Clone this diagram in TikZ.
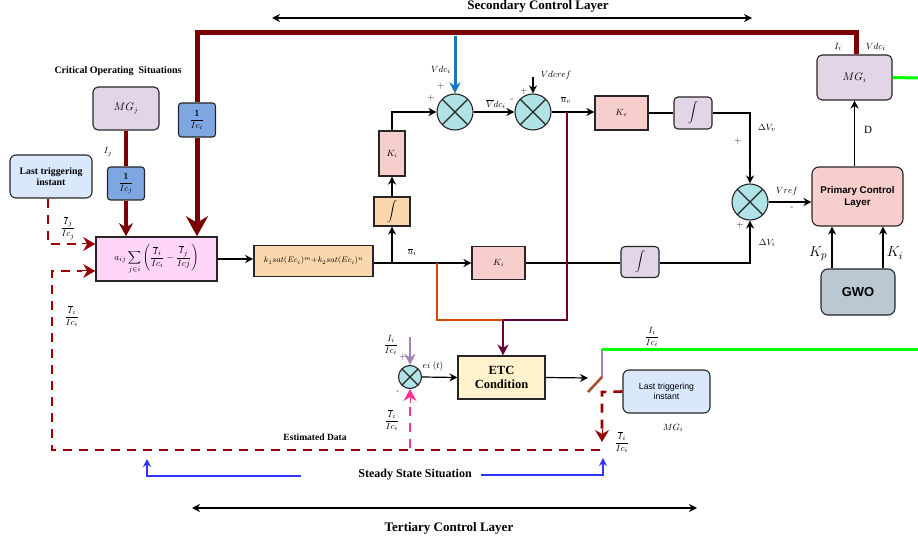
\documentclass[tikz,border=0pt]{standalone}
\usepackage{fontspec}
\usepackage{amsmath}
\newfontfamily\tmsfont{Liberation Serif}
\newfontfamily\arlfont{Liberation Sans}
\usetikzlibrary{arrows.meta}
\definecolor{kpink}{HTML}{F8CECC}
\definecolor{lavender}{HTML}{E1D5E7}
\definecolor{gainblue}{HTML}{7EA6E0}
\definecolor{trigblue}{HTML}{DAE8FC}
\definecolor{sumcyan}{HTML}{B0E3E6}
\definecolor{satorange}{HTML}{FAD7AC}
\definecolor{conspink}{HTML}{FFD6F8}
\definecolor{etcyellow}{HTML}{FFF2CC}
\definecolor{gwogray}{HTML}{BAC8D3}
\definecolor{busred}{HTML}{7A0000}
\definecolor{dred}{HTML}{990000}
\definecolor{vdcblue}{HTML}{1A75BC}
\definecolor{lgreen}{HTML}{00FF00}
\definecolor{dpink}{HTML}{FF2E93}
\definecolor{violet}{HTML}{A680B8}
\definecolor{rust}{HTML}{D04A02}
\definecolor{plum}{HTML}{660033}
\definecolor{swbrown}{HTML}{A0522D}
\definecolor{ssblue}{HTML}{3333FF}
\definecolor{signc}{HTML}{4B0060}
\begin{document}
\begin{tikzpicture}[
    x=1pt, y=-1pt,
    >={Stealth[length=8pt,width=8pt]},
    blk/.style={
        draw=black!85,
        line width=1.1pt,
        inner sep=1pt,
        align=center,
        font=\fontsize{9}{10}\selectfont
    },
    kbox/.style={blk, fill=kpink},
    intbox/.style={blk, fill=lavender, rounded corners=4pt, font=\fontsize{10}{11}\selectfont},
    mgbox/.style={blk, fill=lavender, rounded corners=5pt, font=\fontsize{10.5}{12}\selectfont},
    gainbox/.style={blk, fill=gainblue, rounded corners=3pt, font=\fontsize{9.5}{10}\selectfont},
    trigbox/.style={blk, fill=trigblue, rounded corners=6pt},
    summer/.style={
        circle, draw=black!85, line width=1.1pt, fill=sumcyan,
        minimum size=36pt, inner sep=0pt,
        path picture={\draw[line width=1.1pt]
            (path picture bounding box.north west) -- (path picture bounding box.south east)
            (path picture bounding box.north east) -- (path picture bounding box.south west);}
    },
    lbl/.style={font=\fontsize{9.5}{10}\selectfont, inner sep=0pt},
    sgn/.style={font=\fontsize{9}{10}\selectfont, inner sep=0pt, text=signc},
    ttl/.style={font=\tmsfont\bfseries\fontsize{13}{15}\selectfont, inner sep=0pt},
    arr/.style={->, line width=1.2pt},
    ln/.style={line width=1.2pt},
    ddash/.style={line width=2.6pt, draw=dred, dash pattern=on 9pt off 7pt},
    dtip/.style={-{Stealth[length=12pt,width=14pt]}},
    feed/.style={line width=2.6pt}
]
\useasboundingbox (0,0) rectangle (918,545);

% layer titles
\node[ttl] (sectitle) at (538,6.5) {Secondary Control Layer};
\coordinate (secl) at (272,18);
\coordinate (secr) at (752,18);
\draw[<->, line width=1.5pt] (secl) -- (secr);
\node[ttl] (tertitle) at (449,528) {Tertiary Control Layer};
\coordinate (terl) at (192,508);
\coordinate (terr) at (697,508);
\draw[<->, line width=1.5pt] (terl) -- (terr);

% consensus side
\node[font=\tmsfont\bfseries\fontsize{10}{11}\selectfont, inner sep=0pt] (crit) at (118,71) {Critical Operating\ \ Situations};
\node[mgbox, minimum width=66pt, minimum height=43pt] (mgj) at (126,108.5) {$MG_j$};
\node[gainbox, minimum width=37pt, minimum height=33pt] (icj) at (126,183.5) {$\dfrac{\mathbf{1}}{Ic_j}$};
\node[gainbox, minimum width=37pt, minimum height=34pt] (ici) at (197,120) {$\dfrac{\mathbf{1}}{Ic_i}$};
\node[trigbox, minimum width=82pt, minimum height=43pt, font=\tmsfont\bfseries\fontsize{9.8}{11.5}\selectfont] (lastl) at (51,176.5) {Last triggering\\instant};
\node[blk, fill=conspink, line width=1.6pt, minimum width=121pt, minimum height=44pt, font=\fontsize{9.5}{10}\selectfont] (sum) at (156.5,259)
    {$a_{ij}\displaystyle\sum_{j\in i}\left(\frac{\overline{I}_i}{Ic_i}-\frac{\overline{I}_j}{Icj}\right)$};
\node[blk, fill=satorange, line width=1.6pt, minimum width=119pt, minimum height=31pt, font=\fontsize{8.3}{9}\selectfont] (ksat) at (313.5,261)
    {$k_1sat(Ec_i)^m{+}k_2sat(Ec_i)^n$};

\node[lbl] (ijlbl) at (108,152) {$I_j$};
\node[lbl] (ijbar) at (68,228) {$\dfrac{\overline{I}_j}{Ic_j}$};
\node[lbl] (iibar) at (72,316) {$\dfrac{\overline{I}_i}{Ic_i}$};

% voltage / current loops
\node[summer] (c1) at (455,112) {};
\node[summer] (c2) at (533,112) {};
\node[summer] (c3) at (750,202) {};
\node[kbox, minimum width=53pt, minimum height=34pt] (kv) at (621.5,113) {$K_v$};
\node[intbox, minimum width=38pt, minimum height=32pt] (intv) at (693,113) {$\displaystyle\int$};
\node[kbox, minimum width=26pt, minimum height=45pt] (kiu) at (392,153.5) {$K_i$};
\node[blk, fill=satorange, minimum width=36pt, minimum height=29pt, font=\fontsize{10}{11}\selectfont] (into) at (392,211.5) {$\displaystyle\int$};
\node[kbox, minimum width=53pt, minimum height=33pt] (kil) at (498.5,263) {$K_i$};
\node[intbox, minimum width=38pt, minimum height=31pt] (inti) at (640,262) {$\displaystyle\int$};

% primary layer
\node[mgbox, minimum width=75pt, minimum height=45pt] (mgi) at (854.5,77.5) {$MG_i$};
\node[blk, fill=kpink, rounded corners=7pt, minimum width=91pt, minimum height=59pt, font=\arlfont\bfseries\fontsize{9.8}{12}\selectfont] (prim) at (857.5,196.5) {Primary Control\\Layer};
\node[blk, fill=gwogray, rounded corners=7pt, minimum width=74pt, minimum height=46pt, font=\arlfont\bfseries\fontsize{13}{15}\selectfont] (gwo) at (858,292) {GWO};

% event-triggered part
\node[summer, minimum size=23pt] (c4) at (410,377) {};
\node[blk, fill=etcyellow, minimum width=87pt, minimum height=43pt, font=\tmsfont\bfseries\fontsize{12.5}{14}\selectfont] (etc) at (501.5,377.5) {ETC\\Condition};
\node[trigbox, minimum width=87pt, minimum height=43pt, font=\arlfont\fontsize{8.7}{10.5}\selectfont] (lastr) at (666.5,391.5) {Last triggering\\instant};

% maroon bus from MG_i
\coordinate (busr) at (856,33);
\coordinate (busl) at (197,33);
\draw[line width=5pt, busred] (mgi.north -| busr) -- (busr) -- (busl) -- (ici.north);
\draw[line width=5pt, busred, -{Stealth[length=20pt,width=22pt]}] (ici.south) -- (ici |- sum.north);
\draw[line width=3.8pt, busred] (mgj.south) -- (icj.north);
\draw[line width=3.8pt, busred, -{Stealth[length=13pt,width=14pt]}] (icj.south) -- (icj |- sum.north);

% dashed estimated data
\coordinate (tl1) at (48,244);
\draw[ddash] (lastl.south -| tl1) -- (tl1) -- ([xshift=-13pt]sum.west |- tl1);
\draw[dred, dtip, line width=0pt] ([xshift=-13pt]sum.west |- tl1) -- (sum.west |- tl1);
\coordinate (ed1) at (52,271);
\coordinate (ed2) at (52,450);
\coordinate (ed3) at (600,450);
\draw[ddash] (ed3) -- (ed2) -- (ed1) -- ([xshift=-13pt]sum.west |- ed1);
\draw[dred, dtip, line width=0pt] ([xshift=-13pt]sum.west |- ed1) -- (sum.west |- ed1);
\node[font=\tmsfont\bfseries\fontsize{9.5}{11}\selectfont, inner sep=0pt] (edlbl) at (315,437) {Estimated Data};

% forward path
\draw[arr] (sum.east |- 0,259) -- (ksat.west |- 0,259);
\coordinate (uibr) at (392,263);
\coordinate (uorg) at (437,263);
\draw[arr] (ksat.east |- uibr) -- (kil.west);
\node[lbl] (uilbl) at (412,252) {$\overline{u}_i$};
\draw[arr] (uibr) -- (into.south);
\draw[arr] (into.north) -- (kiu.south);
\draw[arr] (kiu.north) |- (c1.west);
\draw[ln] (kil.east) -- (inti.west |- kil.east);
\draw[arr] (inti.east |- kil.east) -| (c3.south);
\draw[vdcblue, line width=3pt, -{Stealth[length=11pt,width=11pt]}] (455,36) -- (c1.north);
\coordinate (vref0) at (533,77);
\draw[arr] (vref0) -- (c2.north);
\draw[arr] (c1.east) -- (c2.west);
\draw[arr] (c2.east) -- (kv.west |- c2.east);
\draw[ln] (kv.east) -- (intv.west);
\draw[arr] (intv.east) -| (c3.north);
\draw[arr] (c3.east) -- (prim.west |- c3.east);
\draw[arr] (prim.north -| mgi.south) -- (mgi.south);
\draw[arr] (gwo.north -| 832,0) -- (prim.south -| 832,0);
\draw[arr] (gwo.north -| 883,0) -- (prim.south -| 883,0);
\draw[lgreen, line width=3pt] (mgi.east) -- (918,78);

% signals into the ETC block
\coordinate (uvbr) at (567,112);
\coordinate (jn) at (503,320);
\draw[rust, feed] (uorg) -- (uorg |- jn) -- (jn);
\draw[plum, feed] (uvbr) -- (uvbr |- jn) -- (jn);
\draw[plum, feed, -{Stealth[length=11pt,width=11pt]}] (jn) -- (etc.north -| jn);
\draw[violet, feed, -{Stealth[length=11pt,width=11pt]}] (410,337) -- (c4.north);
\draw[dpink, feed, dash pattern=on 9pt off 7pt] (410,448) -- (410,402);
\draw[dpink, -{Stealth[length=12pt,width=13pt]}, line width=0pt] (410,402) -- (c4.south);
\draw[arr] (c4.east) -- (etc.west);

% switch
\coordinate (swt) at (602,349);
\coordinate (swp) at (602,377);
\coordinate (swe) at (588,392);
\draw[arr] (etc.east) -- (588,378);
\draw[violet, line width=2.6pt] (swt) -- (swp);
\draw[swbrown, line width=2.6pt] (swp) -- (swe);
\draw[lgreen, line width=3pt] (swt) -- (918,349);
\coordinate (sw1) at (602,392);
\draw[ddash] (lastr.west) -- (sw1) -- (602,429);
\draw[dred, dtip, line width=0pt] (602,429) -- (602,442);

% steady state arrows
\node[ttl, font=\tmsfont\bfseries\fontsize{12}{14}\selectfont] (sslbl) at (415,475) {Steady State Situation};
\coordinate (ssl) at (301,476);
\coordinate (ssr) at (481,475);
\draw[ssblue, line width=1.5pt, -{Stealth[length=8pt,width=8pt]}] (ssl) -| (147,459);
\draw[ssblue, line width=1.5pt, -{Stealth[length=8pt,width=8pt]}] (ssr) -| (603,458);

% labels
\node[lbl] at (441,70) {$Vdc_i$};
\node[sgn] at (441,86) {+};
\node[sgn] at (431,98) {+};
\node[lbl] at (496,104) {$\overline{V}dc_i$};
\node[sgn] at (512,100) {-};
\node[sgn] at (524,91) {+};
\node[lbl] at (556,75) {$Vdcref$};
\node[lbl] at (566,100) {$\overline{u}_v$};
\node[lbl] at (767,128) {$\Delta V_v$};
\node[sgn] at (738,141) {+};
\node[lbl] at (787,191) {$Vref$};
\node[sgn] at (792,208) {-};
\node[sgn] at (740,225) {+};
\node[lbl] at (767,243) {$\Delta V_i$};
\node[lbl] at (838,47) {$I_i$};
\node[lbl] at (876,47) {$Vdc_i$};
\node[font=\tmsfont\fontsize{11}{12}\selectfont, inner sep=0pt] at (868,130) {D};
\node[inner sep=0pt, font=\fontsize{15}{16}\selectfont] at (818,254) {$K_p$};
\node[inner sep=0pt, font=\fontsize{15}{16}\selectfont] at (895,253) {$K_i$};
\node[lbl] at (391,345) {$\dfrac{I_i}{Ic_i}$};
\node[sgn] at (403,357) {+};
\node[lbl] at (433,366) {$ei\;(t)$};
\node[sgn] at (398,392) {-};
\node[lbl] at (392,420) {$\dfrac{\overline{I}_i}{Ic_i}$};
\node[lbl] at (652,337) {$\dfrac{I_i}{Ic_i}$};
\node[lbl] at (622,442) {$\dfrac{\overline{I}_i}{Ic_i}$};
\node[lbl] at (673,428) {$MG_i$};
\end{tikzpicture}
\end{document}
